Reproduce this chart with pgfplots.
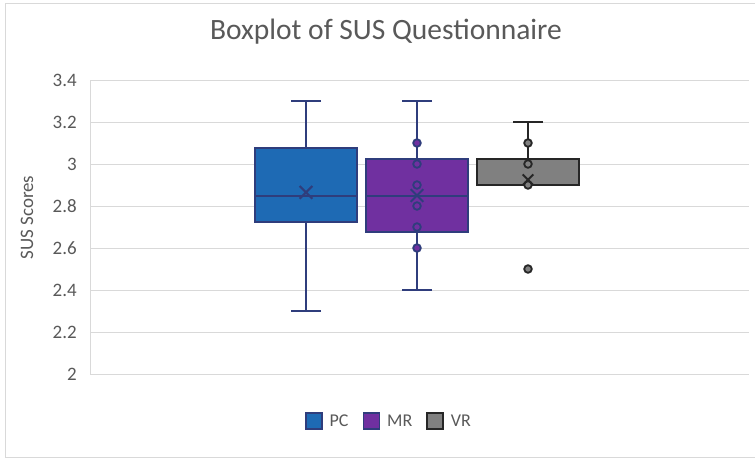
\documentclass[border=0pt]{standalone}
\usepackage{pgfplots}
\pgfplotsset{compat=1.18}
\usepgfplotslibrary{statistics}
\usepackage{fontspec}
\setmainfont{Carlito}
\definecolor{txt}{HTML}{595959}
\definecolor{gridc}{HTML}{D9D9D9}
\definecolor{pcblue}{HTML}{1E6AB4}
\definecolor{mrpurple}{HTML}{7030A0}
\definecolor{vrgray}{HTML}{808080}
\definecolor{navy}{HTML}{2F3D7C}
\definecolor{vredge}{HTML}{262626}
\begin{document}
\begin{tikzpicture}
\useasboundingbox (0pt,0pt) rectangle (755pt,-460pt);
\draw[gridc, line width=1pt] (5.5pt,-3.5pt) rectangle (780pt,-457.5pt);
\node[anchor=base, text=txt, font=\fontsize{29.5}{32}\selectfont] at (386pt,-40pt) {Boxplot of SUS Questionnaire};
\node[rotate=90, anchor=base, text=txt, font=\fontsize{19}{22}\selectfont] at (33pt,-217.5pt) {SUS Scores};
\begin{axis}[
  at={(90pt,-374pt)}, anchor=south west,
  scale only axis, width=659pt, height=294pt,
  xmin=0.90, xmax=7.49, ymin=2, ymax=3.4,
  boxplot/draw direction=y,
  axis x line*=bottom, axis y line*=left,
  axis line style={gridc, line width=1pt, -},
  xtick=\empty,
  ytick={2,2.2,2.4,2.6,2.8,3,3.2,3.4},
  yticklabels={2,2.2,2.4,2.6,2.8,3,3.2,3.4},
  major tick length=0pt,
  ymajorgrids, grid style={gridc, line width=1pt},
  yticklabel style={/pgf/number format/assume math mode=true, font=\fontsize{19}{22}\selectfont, text=txt, anchor=east, inner sep=0pt, xshift=-13pt},
  clip=false,
  legend style={at={(0.4522,-0.16)}, anchor=center, draw=none, fill=none,
    font=\fontsize{18}{20}\selectfont, text=txt, legend columns=3,
    /tikz/every even column/.append style={column sep=14pt},
    inner sep=0pt, nodes={inner sep=0pt}},
  legend image code/.code={\draw[#1] (0pt,-8pt) rectangle (16pt,8pt); \path (23pt,0pt);},
]
\addlegendimage{fill=pcblue, draw=navy, line width=1.6pt}
\addlegendimage{fill=mrpurple, draw=navy, line width=1.6pt}
\addlegendimage{fill=vrgray, draw=vredge, line width=1.6pt}
\legend{PC,MR,VR}

% PC
\addplot[forget plot, fill=pcblue, draw=navy, line width=2pt,
  boxplot prepared={median=2.85, upper quartile=3.075, lower quartile=2.725,
    upper whisker=3.3, lower whisker=2.3, draw position=3.06, box extend=1.02, whisker extend=0.30}]
  coordinates {};
\addplot[forget plot, only marks, mark=x, mark size=9pt, draw=navy, line width=2pt]
  coordinates {(3.06,2.865)};

% MR
\addplot[forget plot, fill=mrpurple, draw=navy, line width=2pt,
  boxplot prepared={median=2.85, upper quartile=3.025, lower quartile=2.675,
    upper whisker=3.3, lower whisker=2.4, draw position=4.17, box extend=1.02, whisker extend=0.30}]
  coordinates {};
\addplot[forget plot, only marks, mark=*, mark size=3.8pt, draw=navy, fill=mrpurple, line width=1.8pt]
  coordinates {(4.17,3.1) (4.17,3.0) (4.17,2.9) (4.17,2.8) (4.17,2.7) (4.17,2.6)};
\addplot[forget plot, only marks, mark=x, mark size=9pt, draw=navy, line width=2pt]
  coordinates {(4.17,2.85)};

% VR
\addplot[forget plot, fill=vrgray, draw=vredge, line width=2pt,
  boxplot prepared={median=2.9, upper quartile=3.025, lower quartile=2.9,
    upper whisker=3.2, lower whisker=2.9, draw position=5.28, box extend=1.02, whisker extend=0.30}]
  coordinates {};
\addplot[forget plot, only marks, mark=*, mark size=3.8pt, draw=vredge, fill=vrgray, line width=1.8pt]
  coordinates {(5.28,3.1) (5.28,3.0) (5.28,2.9) (5.28,2.5)};
\addplot[forget plot, only marks, mark=x, mark size=7.5pt, draw=vredge, line width=2pt]
  coordinates {(5.28,2.925)};
\end{axis}
\end{tikzpicture}
\end{document}
